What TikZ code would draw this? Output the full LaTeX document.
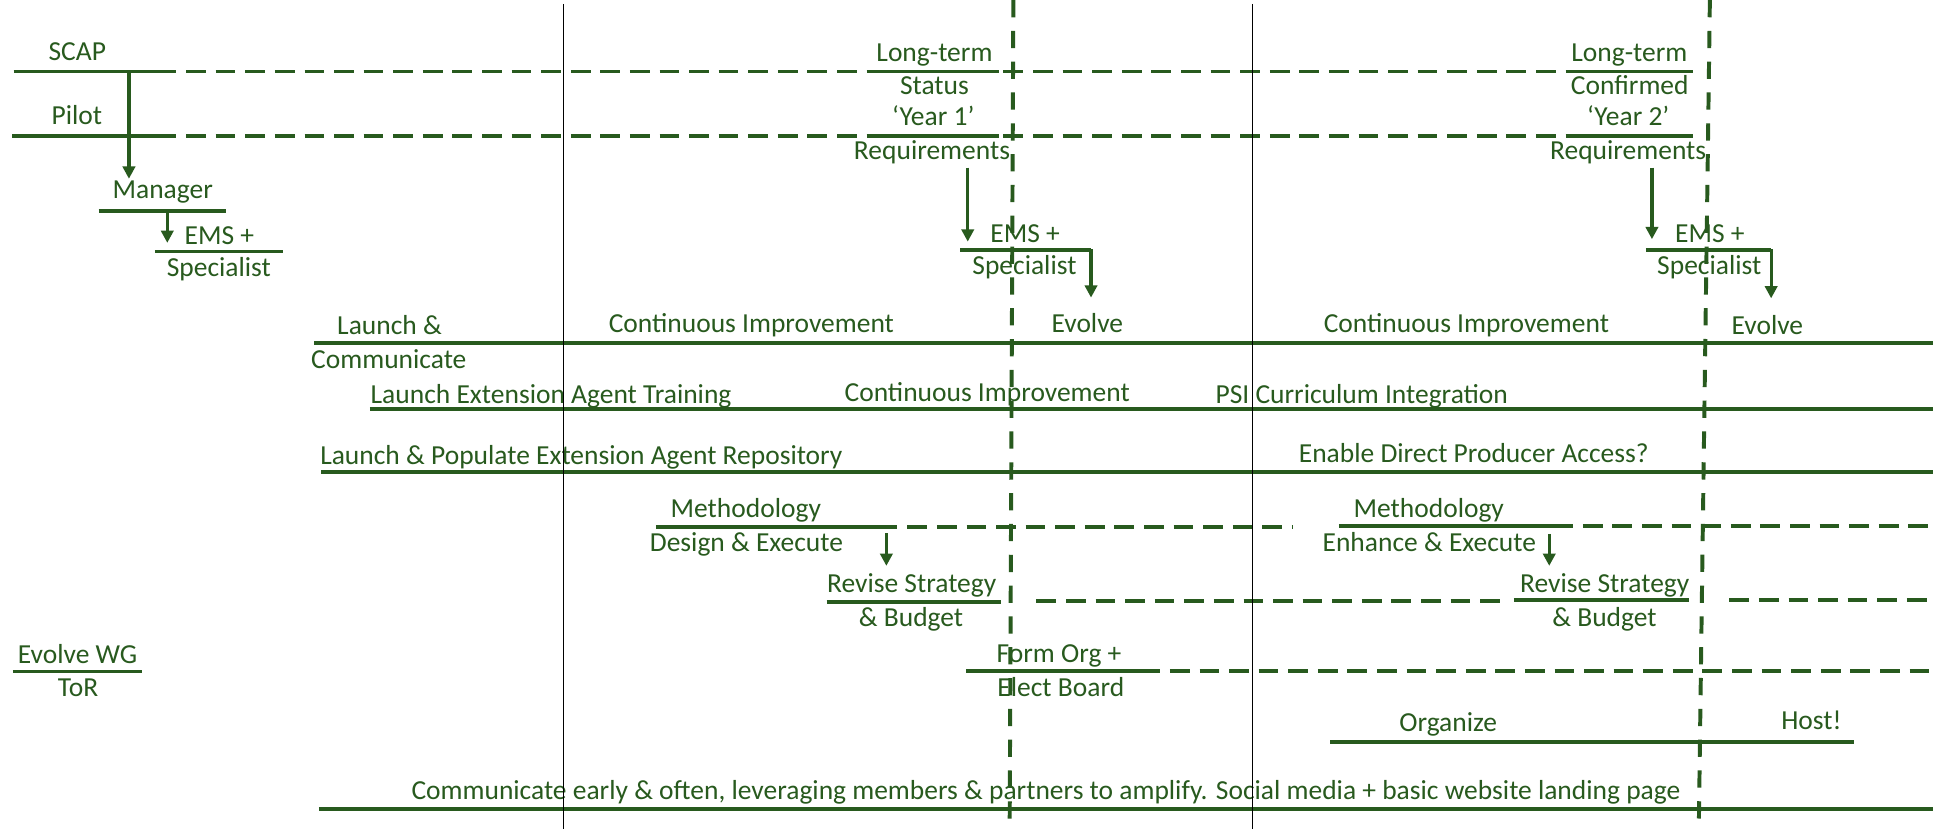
\documentclass[tikz,border=0pt]{standalone}
\usepackage{fontspec}
\setmainfont{Carlito}
\usetikzlibrary{arrows.meta}
\definecolor{dg}{RGB}{40,90,30}
\begin{document}
\begin{tikzpicture}[x=1pt,y=-1pt,
  txt/.style={text=dg, font=\fontsize{22.3}{26}\selectfont, inner sep=0pt, anchor=base},
  txtl/.style={txt, anchor=base west},
  txtr/.style={txt, anchor=base east},
  sl/.style={draw=dg, line width=3.2pt},
  dl/.style={draw=dg, line width=3.2pt, dash pattern=on 16pt off 8pt},
  vdl/.style={draw=dg, line width=3.2pt, dash pattern=on 14pt off 11pt},
  blk/.style={draw=black, line width=1.4pt},
  arr/.style={draw=dg, line width=2.6pt, -{Triangle[width=10pt,length=10pt]}},
]
\fill[white] (0,0) rectangle (1568,672.5);
\useasboundingbox (0,0) rectangle (1568,672.5);

% texts
\node[txt] (scap) at (62.7,49) {SCAP};
\node[txt] (pilot) at (62.4,100.6) {Pilot};
\node[txt] (lt1) at (758,50) {Long-term};
\node[txt] (st1) at (758,77) {Status};
\node[txt] (yr1) at (757,102) {‘Year 1’};
\node[txt] (rq1) at (756,129) {Requirements};
\node[txt] (lt2) at (1321.7,50) {Long-term};
\node[txt] (cf2) at (1322,77) {Confirmed};
\node[txt] (yr2) at (1320.7,102) {‘Year 2’};
\node[txt] (rq2) at (1320.7,129) {Requirements};
\node[txt] (mgr) at (132,161.4) {Manager};
\node[txt] (ems0) at (178,198) {EMS +};
\node[txt] (spc0) at (177.5,224) {Specialist};
\node[txt] (ems1) at (831.5,197) {EMS +};
\node[txt] (spc1) at (831,223) {Specialist};
\node[txt] (ems2) at (1387,197) {EMS +};
\node[txt] (spc2) at (1386.5,223) {Specialist};
\node[txt] (lc1) at (316,271.7) {Launch \&};
\node[txt] (lc2) at (315.4,298.7) {Communicate};
\node[txt] (ci1) at (609.5,270) {Continuous Improvement};
\node[txt] (ev1) at (882,270) {Evolve};
\node[txt] (ci2) at (1189.5,270) {Continuous Improvement};
\node[txt] (ev2) at (1433.6,271.7) {Evolve};
\node[txtl] (leat) at (300.5,327) {Launch Extension Agent Training};
\node[txt] (ci3) at (800.8,325.8) {Continuous Improvement};
\node[txtl] (psi) at (985.8,327) {PSI Curriculum Integration};
\node[txtl] (lpr) at (259.6,377) {Launch \& Populate Extension Agent Repository};
\node[txtr] (edp) at (1337.5,375) {Enable Direct Producer Access?};
\node[txt] (mth1) at (605,420) {Methodology};
\node[txt] (dex) at (605.5,447.4) {Design \& Execute};
\node[txt] (mth2) at (1159,420) {Methodology};
\node[txt] (enh) at (1159.4,447.4) {Enhance \& Execute};
\node[txt] (rs1) at (739.5,481) {Revise Strategy};
\node[txt] (bd1) at (739,508) {\& Budget};
\node[txt] (rs2) at (1301.7,481) {Revise Strategy};
\node[txt] (bd2) at (1301.5,508) {\& Budget};
\node[txt] (fo) at (859,537) {Form Org +};
\node[txt] (eb) at (860.5,565) {Elect Board};
\node[txt] (ewg) at (62.9,538.5) {Evolve WG};
\node[txt] (tor) at (63.4,565) {ToR};
\node[txt] (org) at (1174.7,593.4) {Organize};
\node[txt] (host) at (1469.4,592) {Host!};
\node[txtl] (comm) at (333.6,648.8) {Communicate early \& often, leveraging members \& partners to amplify. Social media + basic website landing page};

% horizontal bars
\draw[sl] (11,58) -- (127,58);
\draw[dl] (127,58) -- (706.5,58);
\draw[sl] (706.5,58) -- (810,58);
\draw[dl] (814,58) -- (1270.4,58);
\draw[sl] (1270.4,58) -- (1373.5,58);

\draw[sl] (10,110) -- (127,110);
\draw[dl] (127,110) -- (706.5,110);
\draw[sl] (706.5,110) -- (810,110);
\draw[dl] (814,110) -- (1270.4,110);
\draw[sl] (1270.4,110) -- (1373.5,110);

\draw[sl] (80,170.9) -- (183,170.9);
\draw[sl] (125.7,204) -- (229.6,204);

\draw[sl] (255,278) -- (1568,278);
\draw[sl] (300,332) -- (1568,332);
\draw[sl] (260.7,383) -- (1568,383);

\draw[sl] (532,427.5) -- (712,427.5);
\draw[dl] (712,427.5) -- (1049,427.5);
\draw[sl] (1086,427) -- (1260,427);
\draw[dl] (1260,427) -- (1568,427);

\draw[sl] (670.5,488) -- (811.7,488);
\draw[dl] (840.7,487.5) -- (1220,487.5);
\draw[sl] (1228,486.6) -- (1370,486.6);
\draw[dl] (1402.8,487) -- (1568,487);

\draw[sl] (783.8,544) -- (925,544);
\draw[dl] (925,544) -- (1568,544);
\draw[sl] (10.4,544.7) -- (114.8,544.7);
\draw[sl] (1079,601.5) -- (1503.6,601.5);
\draw[sl] (258.6,656) -- (1568,656);

% arrows
\coordinate (a0s) at (104.6,58);  \coordinate (a0e) at (104.6,145);
\coordinate (a1s) at (135.7,171); \coordinate (a1e) at (135.7,197);
\coordinate (a2s) at (785,136);   \coordinate (a2e) at (785,196);
\coordinate (a3s) at (1340,136);  \coordinate (a3e) at (1340,194);
\coordinate (a4s) at (719,432.6); \coordinate (a4e) at (719,459);
\coordinate (a5s) at (1256.7,433);\coordinate (a5e) at (1256.7,459);
\draw[arr] (a0s) -- (a0e);
\draw[arr] (a1s) -- (a1e);
\draw[arr] (a2s) -- (a2e);
\draw[arr] (a3s) -- (a3e);
\draw[arr] (a4s) -- (a4e);
\draw[arr] (a5s) -- (a5e);
\draw[sl] (779,203) -- (885,203);
\draw[arr] (885,202) -- (885,241.4);
\draw[sl] (1335,203) -- (1436.7,203);
\draw[arr] (1436.7,202) -- (1436.7,242);

% vertical lines
\draw[blk] (457.2,3.2) -- (457.2,672.5);
\draw[blk] (1016,3.2) -- (1016,672.5);
\draw[vdl] (822,0) -- (819,672.5);
\draw[vdl] (1387,0) -- (1378,672.5);
\end{tikzpicture}
\end{document}
